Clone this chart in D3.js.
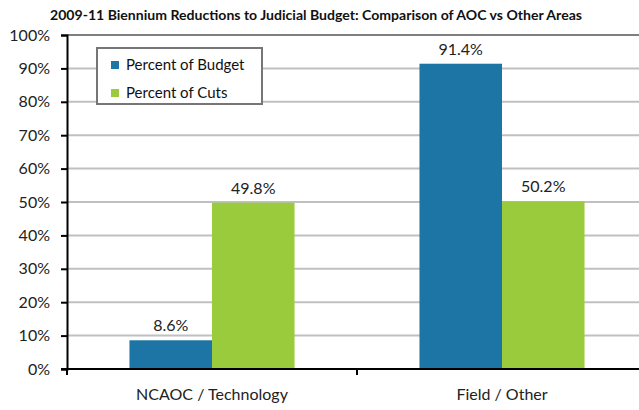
<!DOCTYPE html>
<html><head><meta charset="utf-8">
<script src="https://cdn.jsdelivr.net/npm/d3@7"></script>
<style>body{margin:0;background:#fff}svg{display:block}</style>
</head><body>
<script>
const categories = ["NCAOC / Technology", "Field / Other"];
const seriesNames = ["Percent of Budget", "Percent of Cuts"];
const percentOfBudget = [8.6, 91.4];
const percentOfCuts = [49.8, 50.2];
const yTicks = [0,10,20,30,40,50,60,70,80,90,100];
const title = "2009-11 Biennium Reductions to Judicial Budget: Comparison of AOC vs Other Areas";
const colors = ["#1c75a4", "#9acb3c"];

const W = 639, H = 410;
const m = {left: 67, right: -8, top: 35, bottom: 41};
const svg = d3.select("body").append("svg").attr("width", W).attr("height", H);
const font = "Lato, 'Open Sans', sans-serif";

const x = d3.scaleBand().domain(categories).range([m.left, W - m.right]).paddingInner(0).paddingOuter(0);
const xs = d3.scaleBand().domain(seriesNames).range([0, x.bandwidth()]).paddingInner(0).paddingOuter(0.757);
const y = d3.scaleLinear().domain([0, 100]).range([H - m.bottom, m.top]);

// gridlines
svg.append("g").selectAll("line").data(yTicks.filter(d => d > 0 && d < 100)).join("line")
  .attr("x1", m.left).attr("x2", W).attr("y1", d => y(d)).attr("y2", d => y(d))
  .attr("stroke", "#c0c0c0").attr("stroke-width", 2);
svg.append("line").attr("x1", m.left).attr("x2", W).attr("y1", y(100)).attr("y2", y(100))
  .attr("stroke", "#7f7f7f").attr("stroke-width", 2);

// bars
const data = categories.map((c, i) => ({c, vals: [percentOfBudget[i], percentOfCuts[i]]}));
const g = svg.append("g").selectAll("g").data(data).join("g").attr("transform", d => `translate(${x(d.c)},0)`);
g.selectAll("rect").data(d => d.vals.map((v, j) => ({v, s: seriesNames[j], j}))).join("rect")
  .attr("x", d => xs(d.s)).attr("width", xs.bandwidth())
  .attr("y", d => y(d.v)).attr("height", d => y(0) - y(d.v))
  .attr("fill", d => colors[d.j]);
g.selectAll("text").data(d => d.vals.map((v, j) => ({v, s: seriesNames[j], j}))).join("text")
  .attr("x", d => xs(d.s) + xs.bandwidth() / 2).attr("y", d => y(d.v) - 9)
  .attr("text-anchor", "middle").attr("font-family", font).attr("font-size", 16).attr("fill", "#222")
  .text(d => d.v.toFixed(1) + "%");

// y axis
const yAxis = svg.append("g").attr("transform", `translate(${m.left},0)`)
  .call(d3.axisLeft(y).tickValues(yTicks).tickFormat(d => d + "%").tickSize(6).tickPadding(11));
yAxis.select(".domain").attr("stroke", "#000").attr("stroke-width", 2);
yAxis.selectAll(".tick line").attr("stroke", "#000").attr("stroke-width", 2);
yAxis.selectAll("text").attr("font-family", font).attr("font-size", 16).attr("fill", "#222");

// x axis
const xAxis = svg.append("g").attr("transform", `translate(0,${y(0)})`)
  .call(d3.axisBottom(x).tickSize(0).tickPadding(20));
xAxis.select(".domain").remove();
svg.append("line").attr("x1", m.left - 6).attr("x2", W).attr("y1", y(0)).attr("y2", y(0)).attr("stroke", "#000").attr("stroke-width", 2);
svg.append("g").selectAll("line").data(categories).join("line")
  .attr("x1", d => x(d)).attr("x2", d => x(d)).attr("y1", y(0)).attr("y2", y(0) + 6)
  .attr("stroke", "#000").attr("stroke-width", 2);
xAxis.selectAll("text").attr("font-family", font).attr("font-size", 16).attr("fill", "#222");

// title
svg.append("text").attr("x", 316).attr("y", 20).attr("text-anchor", "middle")
  .attr("font-family", font).attr("font-weight", "bold").attr("font-size", 13)
  .attr("textLength", 532).attr("lengthAdjust", "spacingAndGlyphs").attr("fill", "#111").text(title);

// legend
const lg = svg.append("g");
lg.append("rect").attr("x", 97).attr("y", 48).attr("width", 165).attr("height", 56)
  .attr("fill", "#fff").attr("stroke", "#767676").attr("stroke-width", 2);
seriesNames.forEach((s, i) => {
  const yy = 65 + i * 28;
  lg.append("rect").attr("x", 111).attr("y", yy - 4).attr("width", 8).attr("height", 8).attr("fill", colors[i]);
  lg.append("text").attr("x", 126).attr("y", yy + 5).attr("font-family", font).attr("font-size", 15)
    .attr("fill", "#111").text(s);
});
</script>
</body></html>
